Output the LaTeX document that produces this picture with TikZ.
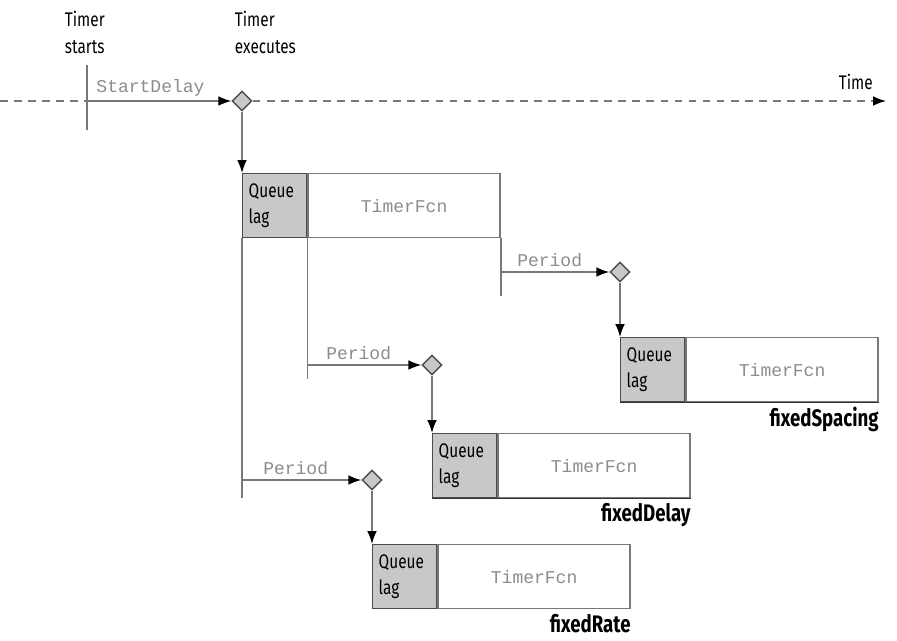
\documentclass[tikz,border=0pt]{standalone}
\usepackage{fontspec}
\setmainfont{Fira Sans}[FakeStretch=0.78]
\setmonofont{Liberation Mono}
\usetikzlibrary{arrows.meta,positioning,shapes.geometric}
\definecolor{lgray}{RGB}{120,120,120}
\definecolor{qfill}{RGB}{200,200,200}
\definecolor{tgray}{RGB}{140,140,140}

\begin{document}
\begin{tikzpicture}[x=0.025cm,y=-0.025cm,
  font=\fontsize{14}{19}\selectfont,
  lane/.style={draw=lgray,line width=1pt},
  arr/.style={lane,-{Latex[length=3.2mm,width=2.4mm,color=black]}},
  gate/.style={diamond,draw=black!70,fill=qfill,line width=1pt,
               minimum width=0.5cm,minimum height=0.5cm,inner sep=0pt},
  qcell/.style={draw=black!70,fill=qfill,line width=1pt,anchor=north west,
                minimum width=1.6cm,minimum height=1.6cm,text width=1.3cm,
                align=left,inner xsep=0.15cm},
  fcell/.style={draw=lgray,line width=1pt,minimum width=4.8cm,minimum height=1.6cm,
                inner sep=0pt,font=\fontsize{12.8}{14}\selectfont\ttfamily,text=tgray},
  lbl/.style={font=\fontsize{12.8}{14}\selectfont\ttfamily,text=tgray,inner sep=3pt},
  mode/.style={font=\fontsize{17}{19}\selectfont\bfseries,inner sep=0pt},
  ]
  \useasboundingbox (0,0) rectangle (897,640);

  % time axis
  \node[align=left,anchor=north west] (tst) at (60,6)  {Timer\\starts};
  \node[align=left,anchor=north west] (tex) at (230,6) {Timer\\executes};
  \coordinate (t0)   at (87,101);
  \coordinate (tend) at (886,101);
  \node[gate] (d0) at (242,101) {};
  \draw[lane] (87,65) -- (87,130);
  \draw[lane,dash pattern=on 5.5pt off 4.5pt] (0,101) -- (t0);
  \draw[lane,dash pattern=on 5.5pt off 4.5pt,-{Latex[length=3.2mm,width=2.4mm,color=black]}]
    (d0.east) -- (tend);
  \node[anchor=south east,inner sep=0pt] (time) at (873,90) {Time};
  \draw[arr] (t0) -- node[lbl,above,pos=0.44] {StartDelay} (d0.west);

  % first execution
  \node[qcell] (q1) at (242,173) {Queue\\lag};
  \node[fcell,right=0pt of q1] (f1) {TimerFcn};
  \draw[arr] (d0.south) -- (q1.north west);
  \draw[lane] (q1.south west) -- ++(0,260) coordinate (r1);
  \draw[lane] (q1.south east) -- ++(0,141) coordinate (r2);
  \draw[lane] (f1.south east) -- ++(0,58)  coordinate (r3);

  % fixedSpacing
  \node[gate] (d1) at (620,272) {};
  \coordinate (s1) at (f1.south east |- d1);
  \draw[arr] (s1) -- node[lbl,above,pos=0.45] {Period} (d1.west);
  \node[qcell] (q2) at (620,337) {Queue\\lag};
  \node[fcell,right=0pt of q2] (f2) {TimerFcn};
  \draw[arr] (d1.south) -- (q2.north west);
  \draw[black!80,line width=1pt] (q2.south west) -- (f2.south east);
  \node[mode,below left=3pt and 0pt of f2.south east] (m2) {fixedSpacing};

  % fixedDelay
  \node[gate] (d2) at (432,365) {};
  \coordinate (s2) at (q1.south east |- d2);
  \draw[arr] (s2) -- node[lbl,above,pos=0.45] {Period} (d2.west);
  \node[qcell] (q3) at (432,433) {Queue\\lag};
  \node[fcell,right=0pt of q3] (f3) {TimerFcn};
  \draw[arr] (d2.south) -- (q3.north west);
  \draw[black!80,line width=1pt] (q3.south west) -- (f3.south east);
  \node[mode,below left=3pt and 0pt of f3.south east] (m3) {fixedDelay};

  % fixedRate
  \node[gate] (d3) at (372,480) {};
  \coordinate (s3) at (q1.south west |- d3);
  \draw[arr] (s3) -- node[lbl,above,pos=0.45] {Period} (d3.west);
  \node[qcell] (q4) at (372,544) {Queue\\lag};
  \node[fcell,right=0pt of q4] (f4) {TimerFcn};
  \draw[arr] (d3.south) -- (q4.north west);
  \node[mode,below left=3pt and 0pt of f4.south east] (m4) {fixedRate};
\end{tikzpicture}
\end{document}
